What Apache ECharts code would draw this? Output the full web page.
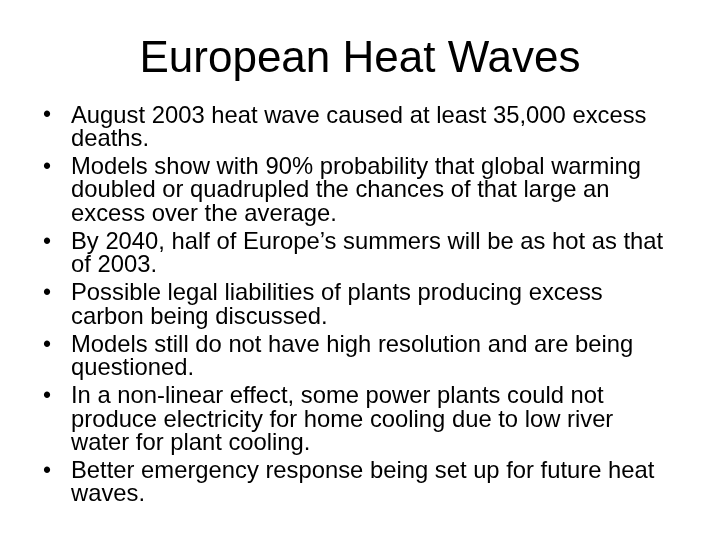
<!DOCTYPE html>
<html><head><meta charset="utf-8">
<script src="https://cdn.jsdelivr.net/npm/echarts@6/dist/echarts.min.js"></script>
<style>html,body{margin:0;padding:0;background:#fff}#c{width:720px;height:540px}</style>
</head><body><div id="c"></div>
<script>
var title = "European Heat Waves";
var bullets = [
  ["August 2003 heat wave caused at least 35,000 excess", "deaths."],
  ["Models show with 90% probability that global warming", "doubled or quadrupled the chances of that large an", "excess over the average."],
  ["By 2040, half of Europe\u2019s summers will be as hot as that", "of 2003."],
  ["Possible legal liabilities of plants producing excess", "carbon being discussed."],
  ["Models still do not have high resolution and are being", "questioned."],
  ["In a non-linear effect, some power plants could not", "produce electricity for home cooling due to low river", "water for plant cooling."],
  ["Better emergency response being set up for future heat", "waves."]
];
var font = "Liberation Sans, Arial, sans-serif";
var els = [{type:'text', left:'center', top:38, style:{text:title, font:'44px '+font, fill:'#000'}}];
var y = 116;
bullets.forEach(function(b){
  els.push({type:'text', x:43, y:y, style:{text:'\u2022', font:'23px '+font, fill:'#000', textVerticalAlign:'middle'}});
  b.forEach(function(line,i){
    els.push({type:'text', x:71, y:y+i*23.3, style:{text:line, font:'23.8px '+font, fill:'#000', textVerticalAlign:'middle'}});
  });
  y += (b.length-1)*23.3 + 28.2;
});
var chart = echarts.init(document.getElementById('c'));
chart.setOption({backgroundColor:'#fff', graphic:{elements:els}});
</script></body></html>
